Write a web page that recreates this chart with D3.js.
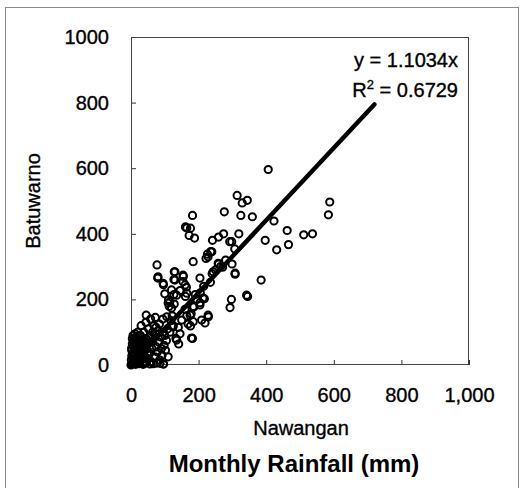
<!DOCTYPE html>
<html><head><meta charset="utf-8">
<script src="https://cdn.jsdelivr.net/npm/d3@7"></script>
<style>body{margin:0;background:#fff}text{font-family:"Liberation Sans",Arial,sans-serif}</style>
</head><body><svg id="c" width="524" height="488"></svg>
<script>
// Nawangan (x) vs Batuwarno (y), monthly rainfall (mm)
const nawangan = [406,588,584,314,344,329,325,359,182,276,161,165,176,172,188,423,462,511,537,466,431,397,319,274,259,241,292,307,184,222,226,236,259,299,271,308,385,297,293,345,77,79,96,100,128,127,155,154,164,145,127,111,128,113,161,204,217,204,186,178,176,169,219,229,235,240,182,133,141,72,45,106,125,96,
130,154,228,239,298,308,258,243,80,95,120,130,160,165,135,115,120,213,204,342,184,175,228,
5,8,3,10,2,6,12,4,15,18,20,22,25,28,30,32,35,38,40,42,45,48,50,52,55,58,60,62,65,68,70,72,75,78,80,82,85,88,90,92,95,98,100,102,105,108,110,0,1,2,14,24,36,46,56,66,76,86,96,12,20,30,44,58,16,8,26,34,44,54,64,74,84,94,115,118,122,135,150,110,124,179,184,209,140,145,160,165,190,195,205,215,250,265,280,
3,7,11,16,21,27,33,39,4,9,14,19,26,31,37,43,49,2,6,13,18,24,29,35,41,47,53,10,17,23];
const batuwarno = [596,497,458,517,502,494,456,452,456,467,421,418,417,395,387,439,410,397,400,367,351,380,400,400,390,380,376,354,315,325,338,346,308,308,298,277,259,200,175,209,305,265,245,217,284,261,270,254,237,227,215,199,186,179,209,265,202,190,177,156,119,125,128,147,252,278,81,81,64,145,152,147,120,3,
284,274,330,345,376,280,310,284,269,249,229,259,244,219,213,193,174,204,183,213,178,152,152,
5,12,25,35,45,60,70,80,20,8,40,55,75,90,15,30,60,100,5,45,80,20,65,110,35,90,10,50,75,120,25,95,55,40,105,70,15,85,50,30,100,60,90,45,75,110,25,0,15,3,2,4,2,8,3,4,6,5,3,95,100,120,130,140,85,55,65,50,70,85,100,115,125,140,100,135,150,76,137,189,116,82,132,137,115,95,170,150,215,200,220,240,290,300,320,
30,18,48,62,28,10,42,70,65,75,55,85,50,22,38,58,32,52,90,68,44,12,78,26,6,60,40,28,58,88];
const slope = 1.1034;
const fitEndX = 720;
const xTicks = [0,200,400,600,800,1000];
const yTicks = [0,200,400,600,800,1000];
const eqText = "y = 1.1034x";
const r2Value = "0.6729";

const svg = d3.select("#c");
const L=131, R=469, T=37, B=365;
const x = d3.scaleLinear().domain([0,1000]).range([L,R]);
const y = d3.scaleLinear().domain([0,1000]).range([B,T]);

svg.append("rect").attr("x",5.5).attr("y",7.5).attr("width",513).attr("height",490)
  .attr("fill","none").attr("stroke","#8a8a8a").attr("stroke-width",1);

const fmtX = d3.format(",");
const gx = svg.append("g").attr("transform",`translate(0,${B})`)
  .call(d3.axisBottom(x).tickValues(xTicks).tickSize(-5).tickPadding(23).tickFormat(d=>fmtX(d)));
const gy = svg.append("g").attr("transform",`translate(${L},0)`)
  .call(d3.axisLeft(y).tickValues(yTicks).tickSize(-5).tickPadding(22).tickFormat(d=>d));
[gx,gy].forEach(g=>{
  g.select(".domain").remove();
  g.selectAll(".tick line").attr("stroke","#333");
  g.selectAll("text").attr("font-size",20).attr("fill","#000").attr("stroke","#000").attr("stroke-width",0.35)
    .attr("font-family",'"Liberation Sans",Arial,sans-serif');
});
gx.selectAll("text").attr("dy","0.71em");

svg.append("rect").attr("x",L+0.5).attr("y",T+0.5).attr("width",R-L-1).attr("height",B-T-1)
  .attr("fill","none").attr("stroke","#444").attr("stroke-width",1);

const pts = nawangan.map((v,i)=>[v,batuwarno[i]]);
svg.append("g").selectAll("circle").data(pts).join("circle")
  .attr("cx",d=>x(d[0])).attr("cy",d=>y(d[1])).attr("r",3.6)
  .attr("fill","none").attr("stroke","#000").attr("stroke-width",2);

svg.append("line").attr("x1",x(0)).attr("y1",y(0)).attr("x2",x(fitEndX)).attr("y2",y(slope*fitEndX))
  .attr("stroke","#000").attr("stroke-width",4.5).attr("stroke-linecap","round");

const txt = (sel)=>sel.attr("fill","#000").attr("stroke","#000").attr("stroke-width",0.35);
txt(svg.append("text").attr("x",458).attr("y",67).attr("text-anchor","end").attr("font-size",20).text(eqText));
const t2 = txt(svg.append("text").attr("x",458).attr("y",97).attr("text-anchor","end").attr("font-size",20));
t2.append("tspan").text("R");
t2.append("tspan").attr("font-size",13).attr("dy",-8).text("2");
t2.append("tspan").attr("dy",8).text(" = " + r2Value);

txt(svg.append("text").attr("x",301).attr("y",435).attr("text-anchor","middle").attr("font-size",20).text("Nawangan"));
svg.append("text").attr("x",294).attr("y",472).attr("text-anchor","middle").attr("font-size",24).attr("font-weight","bold").text("Monthly Rainfall (mm)");
txt(svg.append("text").attr("transform","translate(40,201) rotate(-90)").attr("text-anchor","middle").attr("font-size",20).text("Batuwarno"));
</script></body></html>
